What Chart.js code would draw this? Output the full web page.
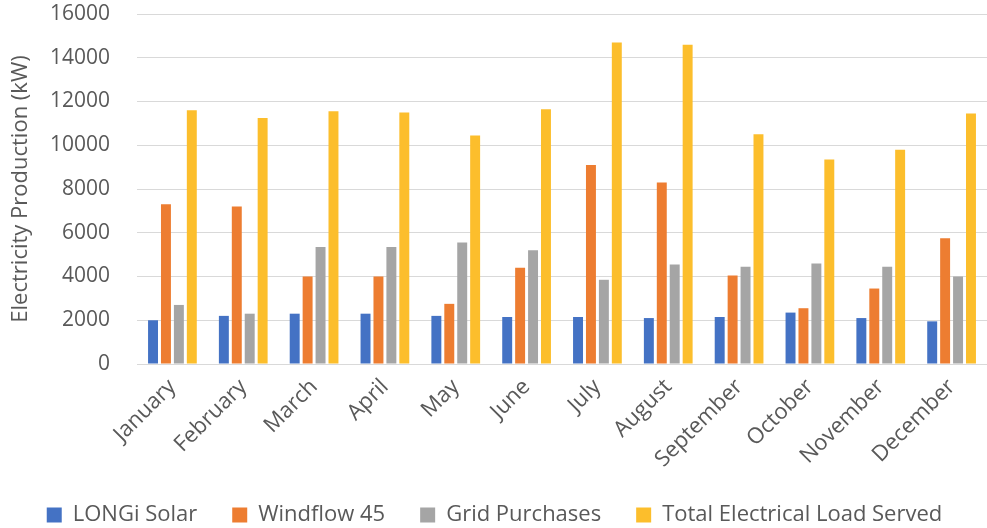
<!DOCTYPE html>
<html>
<head>
<meta charset="utf-8">
<script src="https://cdn.jsdelivr.net/npm/chart.js@4"></script>
<style>
  html, body { margin: 0; padding: 0; background: #fff; }
  #wrap { width: 987px; height: 528px; }
</style>
</head>
<body>
<div id="wrap"><canvas id="myChart" width="987" height="528"></canvas></div>
<script>
const months = ['January', 'February', 'March', 'April', 'May', 'June', 'July', 'August', 'September', 'October', 'November', 'December']
const longiSolar = [2000, 2200, 2300, 2300, 2200, 2150, 2150, 2100, 2150, 2350, 2100, 1950]
const windflow45 = [7300, 7200, 4000, 4000, 2750, 4400, 9100, 8300, 4050, 2550, 3450, 5750]
const gridPurchases = [2700, 2300, 5350, 5350, 5550, 5200, 3850, 4550, 4450, 4600, 4450, 4000]
const totalLoad = [11600, 11250, 11550, 11500, 10450, 11650, 14700, 14600, 10500, 9350, 9800, 11450]

const font = '"Open Sans", Lato, sans-serif'
const textColor = '#595959'

const ctx = document.getElementById('myChart').getContext('2d')

function series(label, data, color) {
    return {
        label: label,
        data: data,
        backgroundColor: color,
        borderWidth: 0,
        categoryPercentage: 0.73,
        barPercentage: 0.77
    }
}

// legend padding spaces the items apart, but we don't want that much height
const legendHeight = {
    id: 'legendHeight',
    beforeLayout(chart) {
        const legend = chart.legend
        if (!legend || legend._fitPatched) return
        const fit = legend.fit
        legend.fit = function () {
            fit.call(this)
            this.height = 59
        }
        legend._fitPatched = true
    }
}

new Chart(ctx, {
    type: 'bar',
    data: {
        labels: months,
        datasets: [
            series('LONGi Solar', longiSolar, '#4472C4'),
            series('Windflow 45', windflow45, '#ED7D31'),
            series('Grid Purchases', gridPurchases, '#A5A5A5'),
            series('Total Electrical Load Served', totalLoad, '#FCBE2C')
        ]
    },
    plugins: [legendHeight],
    options: {
        responsive: false,
        animation: false,
        layout: { padding: { top: 0, right: 0, left: 2, bottom: 0 } },
        plugins: {
            tooltip: { enabled: false },
            legend: {
                position: 'bottom',
                labels: {
                    color: textColor,
                    font: { family: font, size: 22 },
                    boxWidth: 15,
                    boxHeight: 15,
                    padding: 35
                }
            }
        },
        scales: {
            x: {
                grid: { display: false },
                border: { color: '#d9d9d9' },
                ticks: {
                    color: textColor,
                    font: { family: font, size: 22 },
                    maxRotation: 45,
                    minRotation: 45,
                    padding: 2
                },
                afterFit: scale => {
                    scale.height = 105
                    scale.paddingLeft = 0
                    scale.paddingRight = 0
                }
            },
            y: {
                min: 0,
                max: 16000,
                grid: { color: '#d9d9d9', drawTicks: false },
                border: { display: false },
                ticks: {
                    stepSize: 2000,
                    color: textColor,
                    font: { family: font, size: 21 },
                    padding: 27,
                    callback: value => value
                },
                title: {
                    display: true,
                    text: 'Electricity Production (kW)',
                    color: textColor,
                    font: { family: font, size: 22 },
                    padding: 6
                },
                afterFit: scale => {
                    scale.width = 135
                    scale.paddingTop = 14
                    scale.paddingBottom = 10
                }
            }
        }
    }
})
</script>
</body>
</html>
